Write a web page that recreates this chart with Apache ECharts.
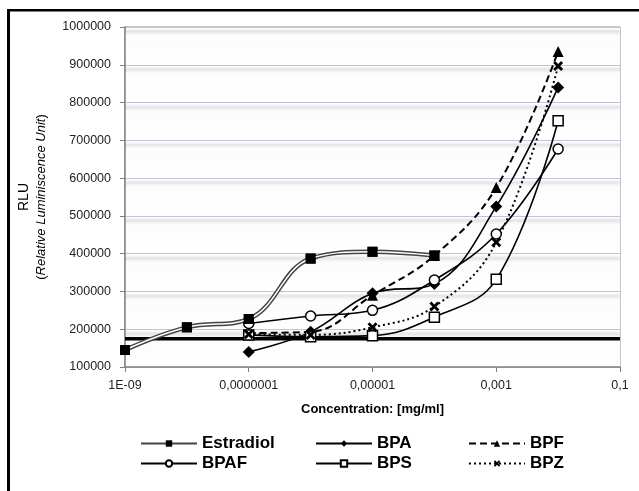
<!DOCTYPE html>
<html>
<head>
<meta charset="utf-8">
<script src="https://cdn.jsdelivr.net/npm/echarts@6/dist/echarts.min.js"></script>
<style>
  html, body { margin: 0; padding: 0; background: #fff; }
  #chart { width: 639px; height: 491px; }
</style>
</head>
<body>
<div id="chart"></div>
<script>
// concentrations [mg/ml]
const concAll = [1e-9, 1e-8, 1e-7, 1e-6, 1e-5, 1e-4]
const conc = [1e-7, 1e-6, 1e-5, 1e-4, 1e-3, 1e-2]
// RLU values
const estradiol = [145000, 205000, 227000, 387000, 405000, 395000]
const bpa = [140000, 193000, 295000, 320000, 525000, 840000]
const bpf = [190000, 193000, 290000, 395000, 575000, 935000]
const bpaf = [215000, 235000, 250000, 330000, 452000, 677000]
const bps = [185000, 180000, 183000, 232000, 332000, 752000]
const bpz = [187000, 185000, 205000, 260000, 430000, 897000]
const baseline = 175000
const xRange = [1e-9, 0.1]
// x ticks and their labels
const xTicks = [1e-9, 1e-7, 1e-5, 1e-3, 1e-1]
const xTickLabels = ['1E-09', '0,0000001', '0,00001', '0,001', '0,1']

const FONT = 'Liberation Sans, Arial, sans-serif'
const crossPath = 'path://M2,0 L5,3 L8,0 L10,2 L7,5 L10,8 L8,10 L5,7 L2,10 L0,8 L3,5 L0,2 Z'

const pairs = (xs, ys) => ys.map((v, i) => [xs[i], v])

const chart = echarts.init(document.getElementById('chart'))

function lineSeries (name, data, symbol, size, fill, type) {
  return {
    name: name,
    type: 'line',
    data: pairs(conc, data),
    smooth: 0.4,
    symbol: symbol,
    symbolSize: size,
    showAllSymbol: true,
    z: 5,
    itemStyle: { color: fill, borderColor: '#000', borderWidth: fill === '#fff' ? 1.5 : 0 },
    lineStyle: { color: '#000', width: type === 'solid' ? 1.6 : 2, type: type },
    emphasis: { disabled: true }
  }
}

const legendBase = {
  orient: 'vertical',
  top: 435,
  padding: 0,
  itemWidth: 56,
  itemHeight: 8,
  itemGap: 3,
  textStyle: { fontFamily: FONT, fontSize: 17, fontWeight: 'bold', color: '#000', lineHeight: 17 },
  selectedMode: false
}

const option = {
  animation: false,
  backgroundColor: '#fff',
  graphic: [
    { type: 'rect', shape: { x: 7, y: 9, width: 632, height: 2.5 }, style: { fill: '#000' } },
    { type: 'rect', shape: { x: 7, y: 9, width: 3, height: 482 }, style: { fill: '#000' } }
  ],
  grid: {
    left: 125, right: 19, top: 27, bottom: 124,
    show: true, borderColor: '#8c8c8c', borderWidth: 1, backgroundColor: 'transparent'
  },
  legend: [
    Object.assign({}, legendBase, { left: 140, data: ['Estradiol', 'BPAF'] }),
    Object.assign({}, legendBase, { left: 315, data: ['BPA', 'BPS'] }),
    Object.assign({}, legendBase, { left: 468, data: ['BPF', 'BPZ'] })
  ],
  xAxis: {
    type: 'log',
    logBase: 10,
    min: xRange[0],
    max: xRange[1],
    name: 'Concentration: [mg/ml]',
    nameLocation: 'middle',
    nameGap: 36,
    nameTextStyle: { fontFamily: FONT, fontSize: 13, fontWeight: 'bold', color: '#000' },
    axisLine: { lineStyle: { color: '#808080', width: 1.5 } },
    axisTick: { show: true, length: 5, customValues: xTicks, lineStyle: { color: '#808080' } },
    minorTick: { show: false },
    splitLine: { show: false },
    axisLabel: {
      margin: 12,
      customValues: xTicks,
      fontFamily: FONT, fontSize: 12.5, color: '#222',
      formatter: v => {
        const i = xTicks.findIndex(t => Math.abs(Math.log10(t) - Math.log10(v)) < 0.01)
        return i >= 0 ? xTickLabels[i] : ''
      }
    }
  },
  yAxis: {
    type: 'value',
    min: 100000,
    max: 1000000,
    interval: 100000,
    name: '{a|RLU}\n{b|(}{c|Relative Luminiscence Unit}{b|)}',
    nameLocation: 'middle',
    nameRotate: 90,
    nameGap: 76,
    nameTextStyle: {
      align: 'center',
      rich: {
        a: { fontFamily: FONT, fontSize: 14, color: '#000', lineHeight: 17 },
        b: { fontFamily: FONT, fontSize: 13, color: '#000', lineHeight: 16 },
        c: { fontFamily: FONT, fontSize: 13, fontStyle: 'italic', color: '#000', lineHeight: 16 }
      }
    },
    axisLine: { show: true, lineStyle: { color: '#808080', width: 1.5 } },
    axisTick: { show: true, length: 5, lineStyle: { color: '#808080' } },
    splitLine: { show: true, lineStyle: { color: '#bcc6d8', width: 1 } },
    splitArea: {
      show: true,
      areaStyle: {
        color: [new echarts.graphic.LinearGradient(0, 0, 0, 1, [
          { offset: 0, color: '#ffffff' },
          { offset: 0.05, color: '#fbfbfb' },
          { offset: 0.12, color: '#e4e4e4' },
          { offset: 0.22, color: '#fcfcfc' },
          { offset: 1, color: '#ffffff' }
        ])]
      }
    },
    axisLabel: {
      margin: 14,
      fontFamily: FONT, fontSize: 12.5, color: '#222',
      formatter: v => String(v)
    }
  },
  series: [
    {
      name: 'baseline',
      type: 'line',
      data: [[xRange[0], baseline], [xRange[1], baseline]],
      symbol: 'none',
      z: 1,
      lineStyle: { color: '#000', width: 3.5 },
      emphasis: { disabled: true }
    },
    // Estradiol: double line (dark outer + white core)
    {
      name: 'Estradiol',
      type: 'line',
      data: pairs(concAll, estradiol),
      smooth: 0.4,
      symbol: 'rect',
      symbolSize: 10,
      z: 3,
      itemStyle: { color: '#000' },
      lineStyle: { color: '#444', width: 4.5 },
      emphasis: { disabled: true }
    },
    {
      name: 'Estradiol',
      type: 'line',
      data: pairs(concAll, estradiol),
      smooth: 0.4,
      symbol: 'none',
      z: 4,
      lineStyle: { color: '#fff', width: 1.5 },
      emphasis: { disabled: true }
    },
    {
      name: 'Estradiol',
      type: 'line',
      data: pairs(concAll, estradiol),
      smooth: 0.4,
      symbol: 'rect',
      symbolSize: 10,
      z: 6,
      itemStyle: { color: '#000' },
      lineStyle: { opacity: 0 },
      emphasis: { disabled: true }
    },
    lineSeries('BPA', bpa, 'diamond', 12, '#000', 'solid'),
    lineSeries('BPF', bpf, 'triangle', 11, '#000', [7, 4]),
    lineSeries('BPAF', bpaf, 'circle', 10, '#fff', 'solid'),
    lineSeries('BPS', bps, 'rect', 10, '#fff', 'solid'),
    lineSeries('BPZ', bpz, crossPath, 10, '#000', [2, 3])
  ]
}

chart.setOption(option)
</script>
</body>
</html>
